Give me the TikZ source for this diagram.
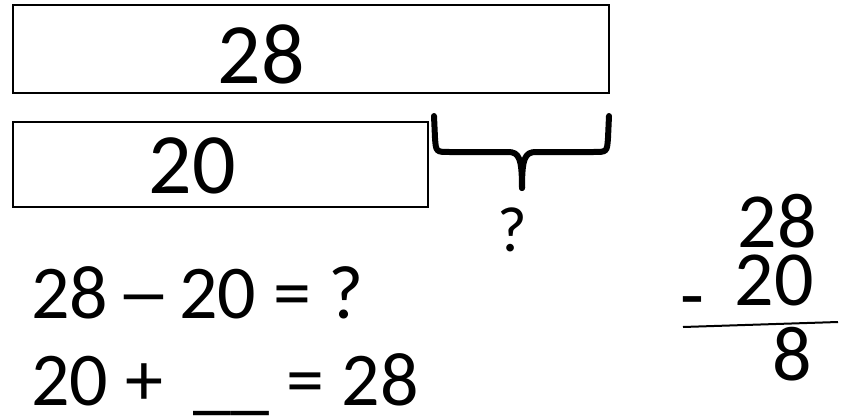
\documentclass[tikz,border=0pt]{standalone}
\usepackage{fontspec}
\setmainfont{Carlito}
\usetikzlibrary{positioning, calc}
\definecolor{inkblack}{RGB}{0,0,0}

\begin{document}
\begin{tikzpicture}[x=1pt, y=-1pt,
    bar/.style={rectangle, draw=inkblack, line width=2.4pt, inner sep=0pt},
    big/.style={inner sep=0pt, anchor=base, font=\fontsize{86}{86}\selectfont},
    eq/.style={inner sep=0pt, anchor=base west, text height=0.64em, text depth=0pt, font=\fontsize{76}{76}\selectfont},
    col/.style={inner sep=0pt, anchor=base east, text height=0.64em, text depth=0pt, font=\fontsize{78}{78}\selectfont},
    brace/.style={draw=inkblack, line width=6pt, line cap=round, line join=round}
]
\useasboundingbox (0,0) rectangle (844,418);
% bar model
\node[bar, minimum width=596pt, minimum height=88pt] (whole) at (311,49) {};
\node[bar, minimum width=415pt, minimum height=85pt] (part) at (220.5,164.5) {};
\node[big] (wholetxt) at (261,83) {28};
\node[big] (parttxt) at (192,193) {20};
% brace over the missing part
\coordinate (bl) at (434,116);
\coordinate (br) at (609,116);
\coordinate (btip) at (522,188);
\draw[brace] (bl) -- (435,138) .. controls (436,152) .. (450,152) -- (508,152)
    .. controls (519,152) and (522,158) .. (btip);
\draw[brace] (btip) .. controls (522,158) and (525,152) .. (536,152) -- (593,152)
    .. controls (607,152) .. (608,138) -- (br);
\node[inner sep=0pt, anchor=base, font=\fontsize{64}{64}\selectfont] (missing) at (512,251) {?};
% equations
\node[eq] (sub) at (31,318) {28 \hspace{-0.12em}\scalebox{1.45}[1]{–}\hspace{-0.12em} 20 = ?};
\node[eq] (add) at (31,405) {20 +\hspace{0.4em}\_\_ = 28};
% column subtraction
\node[col] (top) at (817,247) {28};
\node[col] (bottom) at (814,305) {20};
\node[inner sep=0pt, font=\fontsize{78}{78}\selectfont] (minus) at (692,309) {-};
\coordinate (ruleL) at (683,327);
\coordinate (ruleR) at (838,322);
\draw[line width=2pt] (ruleL) -- (ruleR);
\node[col] (diff) at (812,380) {8};
\end{tikzpicture}
\end{document}
